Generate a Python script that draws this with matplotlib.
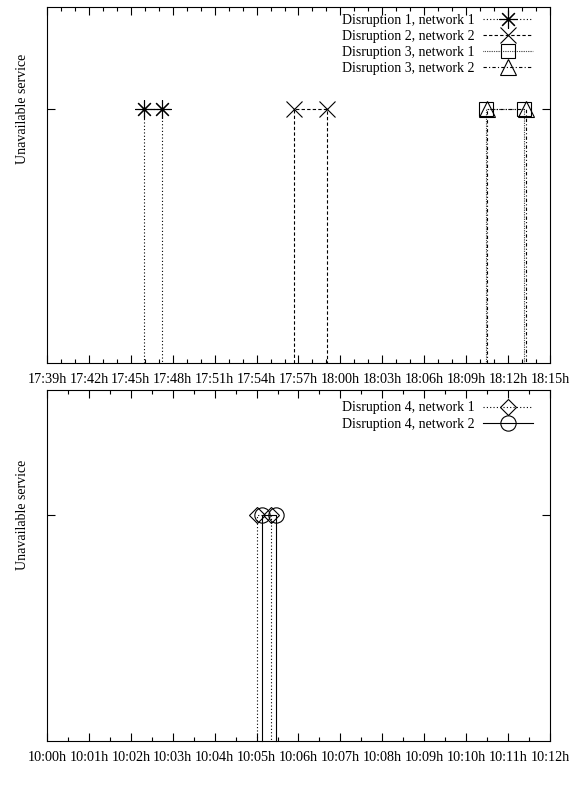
import pandas as pd
import matplotlib
matplotlib.use("Agg")
import matplotlib.pyplot as plt
import matplotlib.dates as mdates

plt.rcParams['font.family'] = ['Liberation Serif', 'DejaVu Serif']
plt.rcParams['font.size'] = 10

# outage windows (start, end) per disruption and network
day = "2015-01-01 "
d1_n1 = ["17:45:57", "17:47:13"]
d2_n2 = ["17:56:41", "17:59:01"]
d3_n1 = ["18:10:27", "18:13:09"]
d3_n2 = ["18:10:29", "18:13:17"]
d4_n1 = ["10:05:01", "10:05:21"]
d4_n2 = ["10:05:08", "10:05:28"]

top_range = ["17:39:00", "18:15:00"]
bottom_range = ["10:00:00", "10:12:00"]

top_series = [
    (d1_n1, "Disruption 1, network 1", dict(marker=(8, 2, 0), ms=13, dashes=(1, 2))),
    (d2_n2, "Disruption 2, network 2", dict(marker="x", ms=12, dashes=(3, 2))),
    (d3_n1, "Disruption 3, network 1", dict(marker="s", ms=10, dashes=(0.6, 1))),
    (d3_n2, "Disruption 3, network 2", dict(marker="^", ms=11, dashes=(3, 2, 1, 2))),
]
bottom_series = [
    (d4_n1, "Disruption 4, network 1", dict(marker="D", ms=8, dashes=(1, 2))),
    (d4_n2, "Disruption 4, network 2", dict(marker="o", ms=11, linestyle="-")),
]


def outage(ax, window, label, style):
    t = pd.to_datetime([day + s for s in window])
    xs = [t[0], t[0], t[1], t[1]]
    ys = [0, 1, 1, 0]
    ax.plot(xs, ys, color="black", lw=0.8, mfc="none", mec="black", mew=0.8,
            markevery=[1, 2], label=label, clip_on=False, **style)


def setup(ax, rng, major, minor, ytop, legend_y):
    lo, hi = pd.to_datetime([day + s for s in rng])
    ax.set_xlim(lo, hi)
    ax.set_ylim(0, ytop)
    ax.xaxis.set_major_locator(mdates.MinuteLocator(byminute=range(0, 60, major)))
    ax.xaxis.set_minor_locator(minor)
    ax.xaxis.set_major_formatter(mdates.DateFormatter("%H:%Mh"))
    ax.set_yticks([1])
    ax.set_yticklabels(["Unavailable service"], rotation=90, va="center")
    ax.tick_params(which="both", direction="in", top=True, right=True, width=0.8)
    ax.tick_params(which="major", length=6, labelsize=10.2)
    ax.tick_params(which="minor", length=3)
    ax.tick_params(axis="x", pad=7)
    ax.tick_params(axis="y", pad=13, labelsize=10)
    for sp in ax.spines.values():
        sp.set_linewidth(0.8)
    ax.legend(loc="upper right", bbox_to_anchor=(0.985, legend_y), frameon=False,
              markerfirst=False, numpoints=1, handlelength=3.6, handletextpad=0.6,
              labelspacing=0.22, borderpad=0.2, fontsize=10)


fig = plt.figure(figsize=(5.81, 7.89), dpi=100)
ax1 = fig.add_axes([0.0809, 0.5399, 0.8657, 0.4512])
ax2 = fig.add_axes([0.0809, 0.0608, 0.8657, 0.4449])

for window, label, style in top_series:
    outage(ax1, window, label, style)
for window, label, style in bottom_series:
    outage(ax2, window, label, style)

setup(ax1, top_range, 3, mdates.MinuteLocator(), 1.4, 1.008)
setup(ax2, bottom_range, 1, mdates.SecondLocator(bysecond=[30]), 1.55, 0.995)

fig.savefig("out.png", dpi=100)
